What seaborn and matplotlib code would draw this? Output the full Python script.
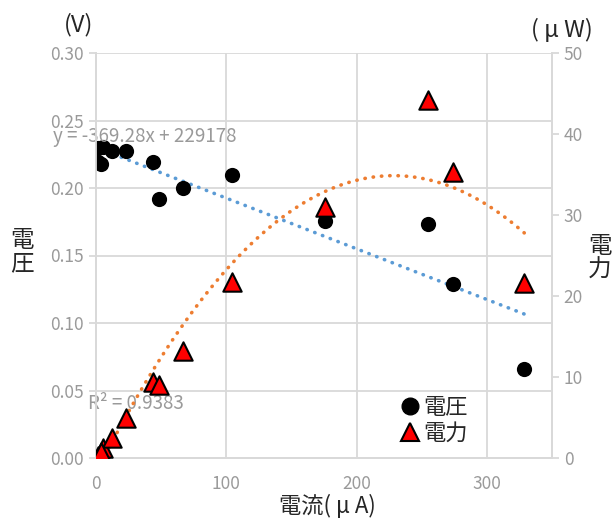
"""Voltage / power vs current scatter with trendlines"""
import numpy as np
import pandas as pd
import matplotlib
matplotlib.use('Agg')
import matplotlib.pyplot as plt
from matplotlib.lines import Line2D
import seaborn as sns

#Values
current = [1.5, 5.4, 12.2, 22.9, 1.5, 3.8, 43.6, 48.2, 66.5, 104.7,
           175.8, 254.6, 273.7, 328.7]
voltage = [0.2296, 0.2304, 0.2274, 0.2274, 0.2193, 0.2178, 0.2193, 0.1919,
           0.2000, 0.2096, 0.1756, 0.1733, 0.1289, 0.0659]
power = [0.0, 1.2, 2.5, 4.9, 0.3, 0.8, 9.4, 9.0, 13.2, 21.7,
         31.0, 44.2, 35.3, 21.6]

x_ticks = [0, 100, 200, 300]
v_ticks = [0.00, 0.05, 0.10, 0.15, 0.20, 0.25, 0.30]
p_ticks = [0, 10, 20, 30, 40, 50]
eq_text = 'y = -369.28x + 229178'
r2_text = 'R² = 0.9383'

df = pd.DataFrame({'current': current, 'voltage': voltage, 'power': power})

sns.set_style('white')
plt.rcParams['font.family'] = ['Noto Sans CJK JP', 'DejaVu Sans']

grid_c = '#d9d9d9'
tick_c = '#9a9a9a'

fig = plt.figure(figsize=(6.14, 5.19), dpi=100)
ax = fig.add_axes([96/614, 61/519, 456/614, 405/519])
ax2 = ax.twinx()

#Trendlines (dotted)
dots = {'lw': 2.6, 'ls': (0, (0.1, 2.2)), 'dash_capstyle': 'round', 'zorder': 3}
sns.regplot(data=df, x='current', y='voltage', ax=ax, ci=None, scatter=False,
            line_kws={'color': '#5b9bd5', **dots})
sns.regplot(data=df, x='current', y='power', ax=ax2, ci=None, scatter=False,
            order=2, line_kws={'color': '#ed7d31', **dots})

#Points
sns.scatterplot(data=df, x='current', y='voltage', ax=ax, marker='o',
                color='black', s=120, edgecolor='black', linewidth=0, zorder=4)
sns.scatterplot(data=df, x='current', y='power', ax=ax2, marker='^',
                color='red', s=175, edgecolor='black', linewidth=1.5,
                zorder=5)

ax.set_xlim(0, 350)
ax.set_ylim(0, 0.30)
ax2.set_ylim(0, 50)
ax.set_xticks(x_ticks)
ax.set_yticks(v_ticks)
ax.set_yticklabels([f'{v:.2f}' for v in v_ticks])
ax2.set_yticks(p_ticks)
ax.set_xlabel('')
ax.set_ylabel('')
ax2.set_ylabel('')

ax.set_axisbelow(True)
ax.grid(True, color=grid_c, lw=1.3)
for a in (ax, ax2):
    for side, sp in a.spines.items():
        sp.set_color(grid_c)
        sp.set_linewidth(1.3)
    a.spines['top'].set_visible(False)
    a.tick_params(colors=grid_c, labelcolor=tick_c, labelsize=12.5,
                  length=5, width=1.3)
ax.tick_params(axis='x', pad=7)
ax.set_zorder(1)
ax2.set_zorder(2)
ax2.patch.set_visible(False)

#Trendline labels
ax.text(-33, 0.2385, eq_text, color=tick_c, fontsize=13.5, va='center',
        zorder=6)
ax.text(-6, 0.0405, r2_text, color=tick_c, fontsize=13.5, va='center',
        zorder=6)

#Axis titles
fig.text(22/614, 1 - 252/519, '電\n圧', ha='center', va='center',
         fontsize=17, linespacing=1.05)
fig.text(600/614, 1 - 258/519, '電\n力', ha='center', va='center',
         fontsize=17, linespacing=1.05)
fig.text(79/614, 1 - 25/519, '(V)', ha='center', va='center', fontsize=17)
fig.text(562/614, 1 - 30/519, '( μ W)', ha='center', va='center',
         fontsize=17)
fig.text(327/614, 1 - 506/519, '電流( μ A)', ha='center', va='center',
         fontsize=16)

#Legend
handles = [Line2D([], [], marker='o', ls='', color='black', markersize=12),
           Line2D([], [], marker='^', ls='', markerfacecolor='red',
                  markeredgecolor='black', markeredgewidth=1.5, markersize=13)]
ax2.legend(handles, ['電圧', '電力'], loc='center',
           bbox_to_anchor=(0.74, 0.093), frameon=False, fontsize=16,
           handletextpad=0.1, labelspacing=0.15, handlelength=1.0)

fig.savefig('out.png', dpi=100)
